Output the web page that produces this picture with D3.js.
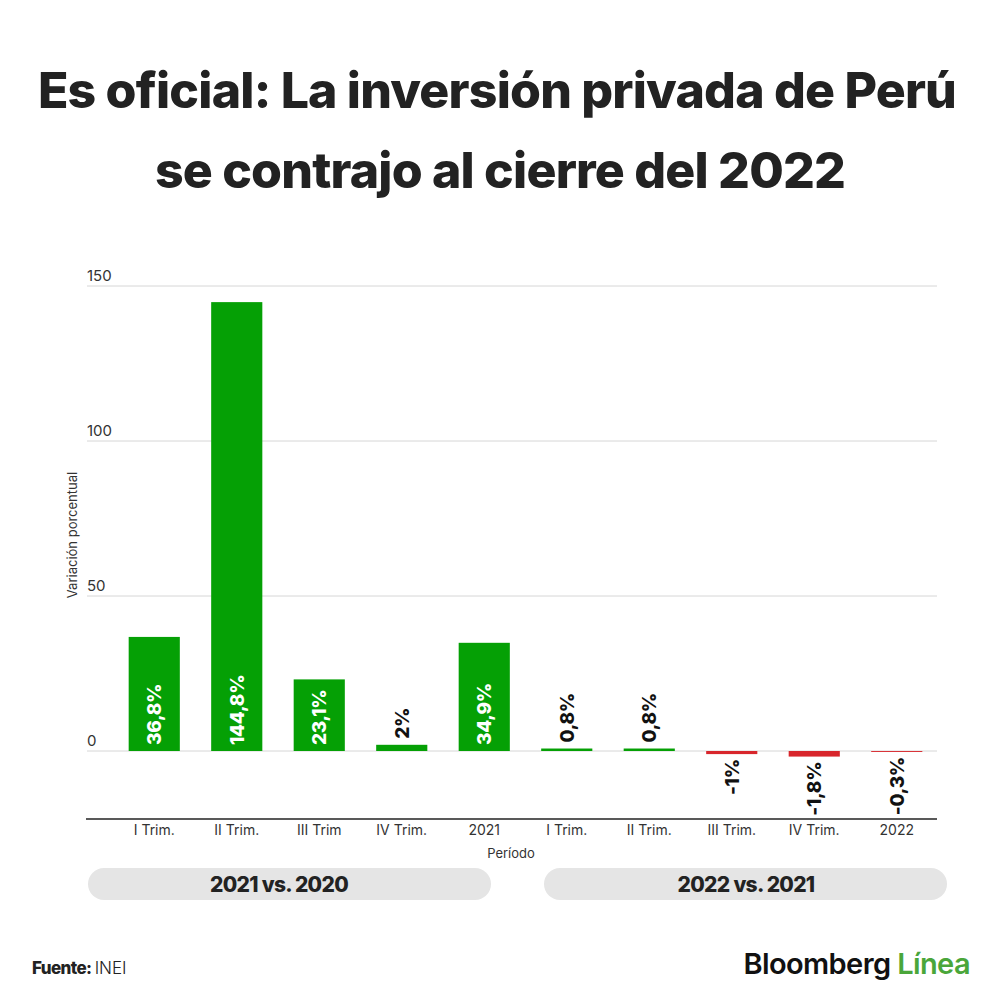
<!DOCTYPE html>
<html>
<head>
<meta charset="utf-8">
<script src="https://cdn.jsdelivr.net/npm/d3@7"></script>
<style>
  body { margin: 0; background: #fff; }
  svg { display: block; }
</style>
</head>
<body>
<script>
// chart data
var periods = ["I Trim.", "II Trim.", "III Trim", "IV Trim.", "2021", "I Trim.", "II Trim.", "III Trim.", "IV Trim.", "2022"];
var values = [36.8, 144.8, 23.1, 2, 34.9, 0.8, 0.8, -1, -1.8, -0.3];
var valueLabels = ["36,8%", "144,8%", "23,1%", "2%", "34,9%", "0,8%", "0,8%", "-1%", "-1,8%", "-0,3%"];
var yTicks = [0, 50, 100, 150];
var groups = ["2021 vs. 2020", "2022 vs. 2021"];

var svg = d3.select("body").append("svg")
    .attr("width", 1000)
    .attr("height", 1000);

svg.append("rect").attr("width", 1000).attr("height", 1000).attr("fill", "#fff");

// title
var title = svg.append("text")
    .attr("text-anchor", "middle")
    .style("font-family", "Inter, 'Noto Sans', sans-serif")
    .style("font-weight", 800)
    .style("font-size", "50px")
    .style("letter-spacing", "-0.8px")
    .style("fill", "#222");
title.append("tspan").attr("x", 497).attr("y", 108).text("Es oficial: La inversión privada de Perú");
title.append("tspan").attr("x", 500).attr("y", 188).text("se contrajo al cierre del 2022");

// scales
var x = d3.scaleBand()
    .domain(d3.range(periods.length))
    .range([113, 938])
    .paddingInner(0.38)
    .paddingOuter(0.19);

var y = d3.scaleLinear()
    .domain([0, 150])
    .range([751, 286]);

// gridlines
svg.selectAll("line.grid")
    .data(yTicks)
    .enter()
    .append("line")
    .attr("class", "grid")
    .attr("x1", 87)
    .attr("x2", 937)
    .attr("y1", function(d) { return y(d); })
    .attr("y2", function(d) { return y(d); })
    .attr("stroke", "#d6d6d6")
    .attr("stroke-width", 1);

svg.selectAll("text.ytick")
    .data(yTicks)
    .enter()
    .append("text")
    .attr("class", "ytick")
    .attr("x", 87)
    .attr("y", function(d) { return y(d) - 5; })
    .text(function(d) { return d; })
    .style("font-family", "Inter, sans-serif")
    .style("font-size", "15px")
    .style("fill", "#333");

// y axis title
svg.append("text")
    .attr("transform", "translate(77,535) rotate(-90)")
    .attr("text-anchor", "middle")
    .text("Variación porcentual")
    .style("font-family", "Inter, sans-serif")
    .style("font-size", "13px")
    .style("fill", "#333");

// bars
svg.selectAll("rect.bar")
    .data(values)
    .enter()
    .append("rect")
    .attr("class", "bar")
    .attr("x", function(d, i) { return x(i); })
    .attr("width", x.bandwidth())
    .attr("y", function(d) { return y(Math.max(0, d)); })
    .attr("height", function(d) { return Math.abs(y(d) - y(0)); })
    .attr("fill", function(d) { return d >= 0 ? "#05a005" : "#d8262c"; });

// value labels
svg.selectAll("text.val")
    .data(values)
    .enter()
    .append("text")
    .attr("class", "val")
    .attr("transform", function(d, i) {
        var cx = x(i) + x.bandwidth() / 2 + 7;
        var ty;
        if (d > 10) ty = y(0) - 6;
        else if (d >= 0) ty = y(d) - 6;
        else ty = y(d) + 5;
        return "translate(" + cx + "," + ty + ") rotate(-90)";
    })
    .attr("text-anchor", function(d) { return d < 0 ? "end" : "start"; })
    .text(function(d, i) { return valueLabels[i]; })
    .style("font-family", "Inter, sans-serif")
    .style("font-weight", 800)
    .style("font-size", "19px")
    .style("letter-spacing", "-0.3px")
    .style("fill", function(d) { return d > 10 ? "#fff" : "#111"; });

// x axis
var xAxis = svg.append("g")
    .attr("transform", "translate(0,819)")
    .call(d3.axisBottom(x).tickSize(0).tickPadding(6).tickFormat(function(i) { return periods[i]; }));
xAxis.select(".domain").attr("d", "M86,0H937").attr("stroke", "#222").attr("stroke-width", 1.5);
xAxis.selectAll("text")
    .style("font-family", "Inter, sans-serif")
    .style("font-size", "14px")
    .style("fill", "#333");

svg.append("text")
    .attr("x", 511)
    .attr("y", 858)
    .attr("text-anchor", "middle")
    .text("Período")
    .style("font-family", "Inter, sans-serif")
    .style("font-size", "13px")
    .style("fill", "#333");

// group pills
var pillX = [88, 544];
var pillTextX = [279, 746];
svg.selectAll("rect.pill")
    .data(groups)
    .enter()
    .append("rect")
    .attr("class", "pill")
    .attr("x", function(d, i) { return pillX[i]; })
    .attr("y", 868)
    .attr("width", 403)
    .attr("height", 32)
    .attr("rx", 16)
    .attr("fill", "#e5e5e5");

svg.selectAll("text.pill")
    .data(groups)
    .enter()
    .append("text")
    .attr("class", "pill")
    .attr("x", function(d, i) { return pillTextX[i]; })
    .attr("y", 892)
    .attr("text-anchor", "middle")
    .text(function(d) { return d; })
    .style("font-family", "Inter, sans-serif")
    .style("font-weight", 800)
    .style("font-size", "21px")
    .style("letter-spacing", "-0.7px")
    .style("fill", "#222");

// footer
var src = svg.append("text")
    .attr("x", 32)
    .attr("y", 974)
    .style("font-family", "Inter, sans-serif")
    .style("font-size", "17px")
    .style("fill", "#222");
src.append("tspan").style("font-weight", 800).style("letter-spacing", "-0.6px").text("Fuente: ");
src.append("tspan").style("font-weight", 300).text("INEI");

var logo = svg.append("text")
    .attr("x", 970)
    .attr("y", 974)
    .attr("text-anchor", "end")
    .style("font-family", "Inter, sans-serif")
    .style("font-size", "29px")
    .style("font-weight", 600)
    .style("letter-spacing", "-0.6px");
logo.append("tspan").style("fill", "#111").text("Bloomberg ");
logo.append("tspan").style("fill", "#4aa63a").text("Línea");
</script>
</body>
</html>
